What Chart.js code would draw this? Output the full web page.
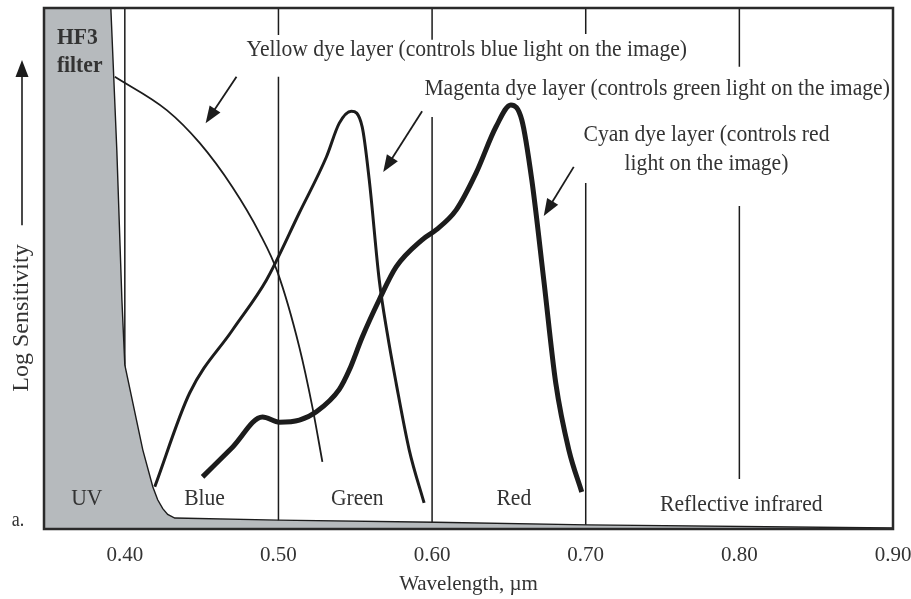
<!DOCTYPE html>
<html>
<head>
<meta charset="utf-8">
<script src="https://cdn.jsdelivr.net/npm/chart.js@4.4.1/dist/chart.umd.min.js"></script>
<style>
  html, body { margin: 0; padding: 0; background: #fff; }
  #chart { display: block; }
</style>
</head>
<body>
<canvas id="chart" width="911" height="599"></canvas>
<script>
// wavelength in um, sensitivity on a 0-100 relative scale
const tickValues = [0.40, 0.50, 0.60, 0.70, 0.80, 0.90];

const filterX = [0.3474, 0.3909, 0.3948, 0.3981, 0.4000, 0.4117, 0.4182, 0.4214, 0.4247, 0.4279, 0.4325, 0.5000, 0.6019, 0.7013, 0.9000];
const filterY = [100, 100, 72.7, 44.0, 31.5, 15.2, 8.1, 5.6, 3.9, 2.8, 2.1, 1.7, 1.3, 0.8, 0.2];

const yellowX = [0.3935, 0.4273, 0.4487, 0.4701, 0.4877, 0.4994, 0.5136, 0.5221, 0.5286];
const yellowY = [86.8, 80.4, 74.1, 65.6, 56.8, 49.3, 34.9, 23.4, 12.9];

const magentaX = [0.4195, 0.4422, 0.4701, 0.4922, 0.5136, 0.5312, 0.5396, 0.5474, 0.5545, 0.5591, 0.5656, 0.5708, 0.5766, 0.5851, 0.5948];
const magentaY = [8.1, 26.1, 38.2, 47.8, 60.7, 71.4, 77.9, 80.2, 77.2, 67.0, 47.8, 37.6, 28.0, 15.2, 5.0];

const cyanX = [0.4506, 0.4701, 0.4896, 0.5006, 0.5136, 0.5247, 0.5396, 0.5461, 0.5545, 0.5656, 0.5766, 0.5935, 0.6026, 0.6156, 0.6286, 0.6416, 0.6513, 0.6584, 0.6649, 0.6727, 0.6805, 0.6890, 0.6974];
const cyanY = [10.0, 15.7, 21.5, 20.5, 20.9, 22.5, 26.8, 30.5, 36.8, 44.0, 50.3, 55.5, 57.4, 61.2, 68.3, 77.2, 81.4, 78.5, 67.0, 47.8, 28.0, 15.2, 7.1];

// band boundaries and the visible pieces of each divider line
const bandEdges = [0.40, 0.50, 0.60, 0.70, 0.80];
const edgeSegments = [
  [[0, 100]],
  [[0, 86.8], [94.8, 100]],
  [[0, 79.1], [93.9, 100]],
  [[0, 66.4], [95.0, 100]],
  [[9.6, 62.0], [88.7, 100]]
];

const bandNames = ["UV", "Blue", "Green", "Red"];
const bandNameX = [0.3753, 0.4519, 0.5513, 0.6532];

const pts = (xs, ys) => xs.map((x, i) => ({ x: x, y: ys[i] }));

const edgePoints = [];
bandEdges.forEach((x, i) => {
  edgeSegments[i].forEach(seg => {
    edgePoints.push({ x: x, y: seg[0] }, { x: x, y: seg[1] }, { x: x, y: null });
  });
});

const INK = "#1c1c1c";
const TEXT = "#333";
const SERIF = "'Liberation Serif', 'Times New Roman', serif";
const SX = 0.90; // the source figure is a little squeezed sideways

function label(ctx, str, x, y, align, font) {
  ctx.save();
  ctx.translate(x, y);
  ctx.scale(SX, 1);
  ctx.font = font;
  ctx.fillStyle = TEXT;
  ctx.textAlign = align;
  ctx.textBaseline = "middle";
  ctx.fillText(str, 0, 0);
  ctx.restore();
}

function arrow(ctx, x1, y1, x2, y2, width) {
  const a = Math.atan2(y2 - y1, x2 - x1);
  const len = 17, half = 6.5;
  ctx.save();
  ctx.strokeStyle = INK;
  ctx.fillStyle = INK;
  ctx.lineWidth = width;
  ctx.beginPath();
  ctx.moveTo(x1, y1);
  ctx.lineTo(x2 - Math.cos(a) * len * 0.8, y2 - Math.sin(a) * len * 0.8);
  ctx.stroke();
  ctx.beginPath();
  ctx.moveTo(x2, y2);
  ctx.lineTo(x2 - Math.cos(a) * len + Math.sin(a) * half, y2 - Math.sin(a) * len - Math.cos(a) * half);
  ctx.lineTo(x2 - Math.cos(a) * len - Math.sin(a) * half, y2 - Math.sin(a) * len + Math.cos(a) * half);
  ctx.closePath();
  ctx.fill();
  ctx.restore();
}

// annotations, placed in data space
const notes = [
  { text: "Yellow dye layer (controls blue light on the image)", x: 0.4792, y: 91.9, align: "left" },
  { text: "Magenta dye layer (controls green light on the image)", x: 0.5950, y: 84.6, align: "left" },
  { text: "Cyan dye layer (controls red", x: 0.7786, y: 75.6, align: "center" },
  { text: "light on the image)", x: 0.7786, y: 70.2, align: "center" },
  { text: "Reflective infrared", x: 0.8013, y: 4.6, align: "center" }
];
const pointers = [
  { from: [0.4727, 86.8], to: [0.4526, 77.9] },
  { from: [0.5935, 80.2], to: [0.5682, 68.5] },
  { from: [0.6922, 69.5], to: [0.6727, 60.1] }
];

const decor = {
  id: "decor",
  afterDatasetsDraw(chart) {
    const { ctx, chartArea: ca, scales: { x, y } } = chart;
    const font = "24px " + SERIF;

    ctx.save();
    ctx.strokeStyle = "#2a2a2a";
    ctx.lineWidth = 2.5;
    ctx.strokeRect(ca.left, ca.top, ca.right - ca.left, ca.bottom - ca.top);
    ctx.restore();

    label(ctx, "HF3", x.getPixelForValue(0.3558), y.getPixelForValue(94.2), "left", "bold 24px " + SERIF);
    label(ctx, "filter", x.getPixelForValue(0.3558), y.getPixelForValue(88.9), "left", "bold 24px " + SERIF);

    bandNames.forEach((n, i) => {
      label(ctx, n, x.getPixelForValue(bandNameX[i]), y.getPixelForValue(5.8), "center", font);
    });
    notes.forEach(n => {
      label(ctx, n.text, x.getPixelForValue(n.x), y.getPixelForValue(n.y), n.align, font);
    });
    pointers.forEach(p => {
      arrow(ctx, x.getPixelForValue(p.from[0]), y.getPixelForValue(p.from[1]),
        x.getPixelForValue(p.to[0]), y.getPixelForValue(p.to[1]), 1.8);
    });

    // y axis caption with its arrow
    arrow(ctx, 22, y.getPixelForValue(58.3), 22, y.getPixelForValue(90.0), 1.6);
    ctx.save();
    ctx.translate(22, y.getPixelForValue(40.5));
    ctx.rotate(-Math.PI / 2);
    ctx.font = font;
    ctx.fillStyle = TEXT;
    ctx.textAlign = "center";
    ctx.textBaseline = "middle";
    ctx.fillText("Log Sensitivity", 0, 0);
    ctx.restore();

    label(ctx, "a.", 18, y.getPixelForValue(1.5), "center", "20px " + SERIF);
  }
};

new Chart(document.getElementById("chart"), {
  type: "line",
  data: {
    datasets: [
      {
        data: pts(filterX, filterY),
        borderColor: INK,
        borderWidth: 1.4,
        backgroundColor: "#b6babd",
        fill: "origin",
        tension: 0
      },
      {
        data: edgePoints,
        borderColor: INK,
        borderWidth: 1.5,
        fill: false,
        spanGaps: false
      },
      {
        data: pts(yellowX, yellowY),
        borderColor: INK,
        borderWidth: 1.8,
        fill: false,
        cubicInterpolationMode: "monotone"
      },
      {
        data: pts(magentaX, magentaY),
        borderColor: INK,
        borderWidth: 3,
        fill: false,
        cubicInterpolationMode: "monotone"
      },
      {
        data: pts(cyanX, cyanY),
        borderColor: INK,
        borderWidth: 5,
        fill: false,
        cubicInterpolationMode: "monotone"
      }
    ]
  },
  options: {
    responsive: false,
    animation: false,
    events: [],
    elements: { point: { radius: 0 }, line: { borderCapStyle: "butt" } },
    layout: { padding: { left: 44, top: 8, right: 18, bottom: 0 } },
    plugins: { legend: { display: false }, tooltip: { enabled: false } },
    scales: {
      x: {
        type: "linear",
        min: 0.3474,
        max: 0.90,
        grid: { display: false, drawTicks: false },
        border: { display: false },
        afterBuildTicks: s => { s.ticks = tickValues.map(v => ({ value: v })); },
        afterFit: s => { s.height = 70; s.paddingLeft = 0; s.paddingRight = 0; },
        ticks: {
          color: TEXT,
          padding: 14,
          maxRotation: 0,
          font: { family: SERIF, size: 21 },
          callback: v => Number(v).toFixed(2)
        },
        title: {
          display: true,
          text: "Wavelength, µm",
          color: TEXT,
          font: { family: SERIF, size: 21 },
          padding: { top: 0, bottom: 2 }
        }
      },
      y: { display: false, min: 0, max: 100 }
    }
  },
  plugins: [decor]
});
</script>
</body>
</html>
